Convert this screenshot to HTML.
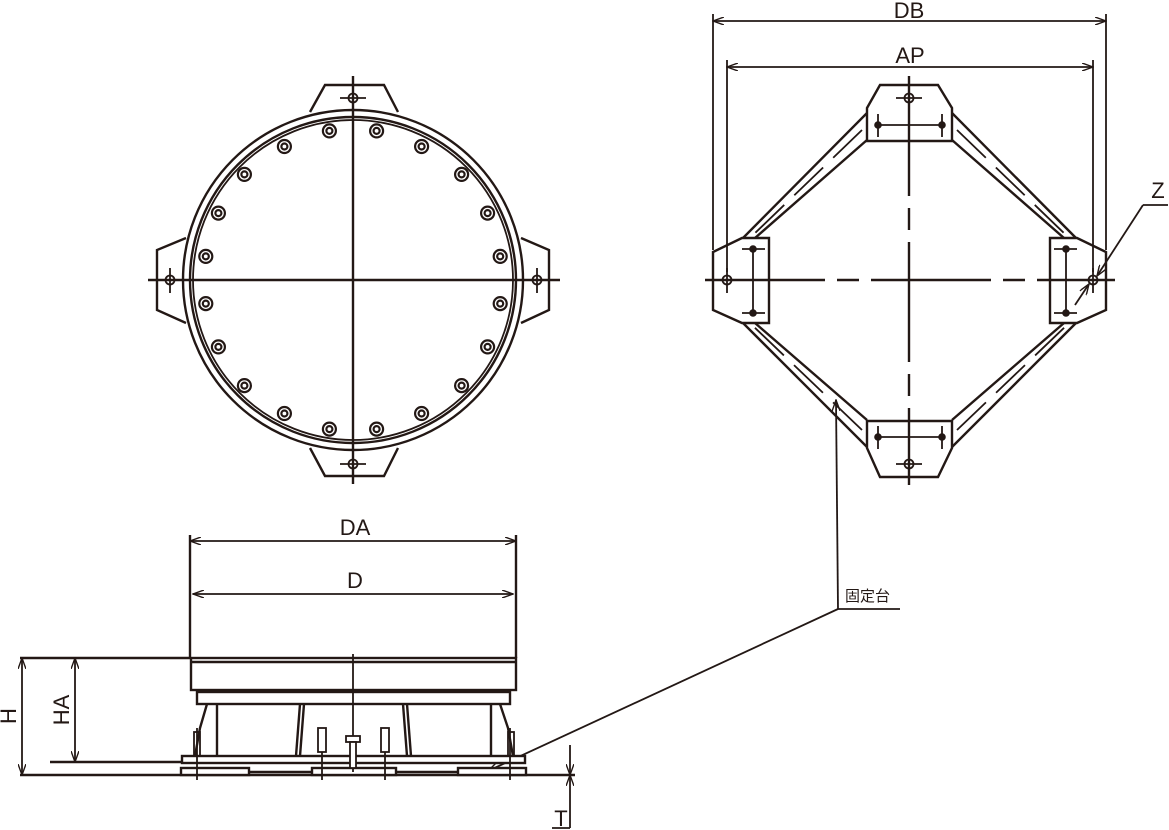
<!DOCTYPE html>
<html><head><meta charset="utf-8"><style>
html,body{margin:0;padding:0;background:#fff;}
svg{display:block;}
text{font-family:"Liberation Sans","Noto Sans CJK JP",sans-serif;fill:#231815;}
</style></head><body>
<svg width="1169" height="830" viewBox="0 0 1169 830" xmlns="http://www.w3.org/2000/svg">
<defs>
<marker id="a" markerWidth="12" markerHeight="8" refX="11" refY="4" orient="auto-start-reverse" markerUnits="userSpaceOnUse"><path d="M0,0 L11,4 L0,8" fill="none" stroke="#231815" stroke-width="1.4"/></marker>
</defs>
<g stroke="#231815" fill="none" stroke-width="2.4">
<path d="M310,112 L325,85 L384,85 L398,112" fill="#fff"/>
<path d="M310,448 L325,476 L384,476 L398,448" fill="#fff"/>
<path d="M186,238 L157,250 L157,310 L186,323" fill="#fff"/>
<path d="M521,238 L549,250 L549,310 L521,323" fill="#fff"/>
<ellipse cx="353" cy="280" rx="170" ry="170" fill="#fff"/>
<ellipse cx="353" cy="280" rx="163" ry="163"/>
<ellipse cx="353" cy="280" rx="160" ry="160" stroke-width="1.8"/>
<line x1="148" y1="280" x2="560" y2="280"/>
<line x1="353" y1="76" x2="353" y2="484"/>
<g stroke-width="1.8">
<circle cx="353" cy="98" r="4.5"/><line x1="340" y1="98" x2="366" y2="98"/>
<circle cx="353" cy="464" r="4.5"/><line x1="340" y1="464" x2="366" y2="464"/>
<circle cx="170" cy="280" r="4.5"/><line x1="170" y1="268" x2="170" y2="293"/>
<circle cx="537" cy="280" r="4.5"/><line x1="537" y1="268" x2="537" y2="293"/>
</g>
<g stroke-width="2.2">
<circle cx="376.6" cy="130.9" r="6.5"/><circle cx="376.6" cy="130.9" r="3"/>
<circle cx="329.4" cy="130.9" r="6.5"/><circle cx="329.4" cy="130.9" r="3"/>
<circle cx="421.6" cy="146.5" r="6.5"/><circle cx="421.6" cy="146.5" r="3"/>
<circle cx="284.4" cy="146.5" r="6.5"/><circle cx="284.4" cy="146.5" r="3"/>
<circle cx="461.6" cy="174.4" r="6.5"/><circle cx="461.6" cy="174.4" r="3"/>
<circle cx="244.4" cy="174.4" r="6.5"/><circle cx="244.4" cy="174.4" r="3"/>
<circle cx="487.6" cy="213.1" r="6.5"/><circle cx="487.6" cy="213.1" r="3"/>
<circle cx="218.4" cy="213.1" r="6.5"/><circle cx="218.4" cy="213.1" r="3"/>
<circle cx="500.2" cy="256.4" r="6.5"/><circle cx="500.2" cy="256.4" r="3"/>
<circle cx="205.8" cy="256.4" r="6.5"/><circle cx="205.8" cy="256.4" r="3"/>
<circle cx="500.2" cy="303.6" r="6.5"/><circle cx="500.2" cy="303.6" r="3"/>
<circle cx="205.8" cy="303.6" r="6.5"/><circle cx="205.8" cy="303.6" r="3"/>
<circle cx="487.6" cy="346.9" r="6.5"/><circle cx="487.6" cy="346.9" r="3"/>
<circle cx="218.4" cy="346.9" r="6.5"/><circle cx="218.4" cy="346.9" r="3"/>
<circle cx="461.6" cy="385.6" r="6.5"/><circle cx="461.6" cy="385.6" r="3"/>
<circle cx="244.4" cy="385.6" r="6.5"/><circle cx="244.4" cy="385.6" r="3"/>
<circle cx="421.6" cy="413.5" r="6.5"/><circle cx="421.6" cy="413.5" r="3"/>
<circle cx="284.4" cy="413.5" r="6.5"/><circle cx="284.4" cy="413.5" r="3"/>
<circle cx="376.6" cy="429.1" r="6.5"/><circle cx="376.6" cy="429.1" r="3"/>
<circle cx="329.4" cy="429.1" r="6.5"/><circle cx="329.4" cy="429.1" r="3"/>
</g>

<line x1="867" y1="113" x2="743" y2="238"/><line x1="867" y1="140" x2="755" y2="238"/>
<line x1="952" y1="113" x2="1076" y2="238"/><line x1="952" y1="140" x2="1064" y2="238"/>
<line x1="867" y1="447" x2="743" y2="323"/><line x1="867" y1="420" x2="755" y2="323"/>
<line x1="952" y1="447" x2="1076" y2="323"/><line x1="952" y1="420" x2="1064" y2="323"/>
<g stroke-width="1.8" stroke-dasharray="40,14">
<line x1="862" y1="130" x2="752" y2="236"/><line x1="957" y1="130" x2="1067" y2="236"/>
<line x1="862" y1="430" x2="752" y2="325"/><line x1="957" y1="430" x2="1067" y2="325"/>
</g>
<path d="M867,108 L880,85 L938,85 L952,108 L952,141 L867,141 Z" fill="#fff"/>
<path d="M867,421 L952,421 L952,448 L938,477 L880,477 L867,448 Z" fill="#fff"/>
<path d="M742,238 L769,238 L769,323 L742,323 L713,310 L713,252 Z" fill="#fff"/>
<path d="M1077,238 L1050,238 L1050,323 L1077,323 L1106,310 L1106,252 Z" fill="#fff"/>
<line x1="705" y1="280" x2="1115" y2="280" stroke-dasharray="120,12,22,12"/>
<line x1="909" y1="76" x2="909" y2="485" stroke-dasharray="120,12,22,12"/>
<g stroke-width="1.8">
<line x1="876" y1="125" x2="944" y2="125"/><line x1="878" y1="114" x2="878" y2="137"/><line x1="942" y1="114" x2="942" y2="137"/>
<line x1="876" y1="437" x2="944" y2="437"/><line x1="878" y1="426" x2="878" y2="449"/><line x1="942" y1="426" x2="942" y2="449"/>
<line x1="753" y1="249" x2="753" y2="313"/><line x1="742" y1="249" x2="765" y2="249"/><line x1="742" y1="313" x2="765" y2="313"/>
<line x1="1066" y1="249" x2="1066" y2="313"/><line x1="1054" y1="249" x2="1077" y2="249"/><line x1="1054" y1="313" x2="1077" y2="313"/>
<circle cx="909" cy="98" r="4.5"/><line x1="896" y1="98" x2="922" y2="98"/>
<circle cx="909" cy="464" r="4.5"/><line x1="896" y1="464" x2="922" y2="464"/>
<circle cx="727" cy="280" r="4.5"/><line x1="727" y1="268" x2="727" y2="293"/>
<circle cx="1093" cy="280" r="4.5"/><line x1="1093" y1="268" x2="1093" y2="293"/>
</g>
<g fill="#231815" stroke="none">
<circle cx="878" cy="125" r="3.8"/><circle cx="942" cy="125" r="3.8"/>
<circle cx="878" cy="437" r="3.8"/><circle cx="942" cy="437" r="3.8"/>
<circle cx="753" cy="249" r="3.8"/><circle cx="753" cy="313" r="3.8"/>
<circle cx="1066" cy="249" r="3.8"/><circle cx="1066" cy="313" r="3.8"/>
</g>
<g stroke-width="1.8">
<line x1="713" y1="14" x2="713" y2="250"/><line x1="1106" y1="14" x2="1106" y2="250"/>
<line x1="727" y1="60" x2="727" y2="272"/><line x1="1093" y1="60" x2="1093" y2="272"/>
<line x1="713" y1="21" x2="1106" y2="21" marker-start="url(#a)" marker-end="url(#a)"/>
<line x1="727" y1="67" x2="1093" y2="67" marker-start="url(#a)" marker-end="url(#a)"/>
<line x1="1168" y1="205" x2="1143" y2="205"/>
<line x1="1143" y1="205" x2="1097" y2="276" marker-end="url(#a)"/>
<line x1="1075" y1="305" x2="1089" y2="284" marker-end="url(#a)"/>
<line x1="836" y1="400" x2="838" y2="609" marker-start="url(#a)"/>
<line x1="838" y1="609" x2="900" y2="609"/>
<line x1="838" y1="609" x2="488" y2="771" marker-end="url(#a)"/>
</g>

<g stroke-width="2.4">
<line x1="190" y1="535" x2="190" y2="658"/><line x1="516" y1="535" x2="516" y2="658"/>
<rect x="191" y="658" width="325" height="32" fill="#fff"/>
<line x1="191" y1="662" x2="516" y2="662"/>
<rect x="197" y="692" width="313" height="12" fill="#fff"/>
<line x1="217" y1="704" x2="217" y2="756"/><line x1="491" y1="704" x2="491" y2="756"/>
<path d="M207,704 L200,728 L195,756"/><path d="M500,704 L508,728 L513,756"/>
<path d="M300,704 L296,756 M304,704 L300,756"/><path d="M403,704 L407,756 M407,704 L411,756"/>
<rect x="182" y="756" width="343" height="7" fill="#fff"/>
<line x1="20" y1="658" x2="191" y2="658"/>
<line x1="50" y1="762" x2="182" y2="762"/>
<line x1="20" y1="775" x2="575" y2="775"/>
<rect x="181" y="768" width="68" height="7" fill="#fff"/>
<rect x="312" y="768" width="84" height="7" fill="#fff"/>
<rect x="458" y="768" width="68" height="7" fill="#fff"/>
<line x1="249" y1="772" x2="312" y2="772"/><line x1="396" y1="772" x2="458" y2="772"/>
</g>
<g stroke-width="1.8">
<line x1="353" y1="654" x2="353" y2="772"/>
<line x1="197" y1="728" x2="197" y2="780"/><line x1="510" y1="728" x2="510" y2="780"/>
<line x1="322" y1="728" x2="322" y2="780"/><line x1="385" y1="728" x2="385" y2="780"/>
<rect x="318" y="728" width="8" height="24" fill="#fff"/><rect x="381" y="728" width="8" height="24" fill="#fff"/>
<rect x="346" y="736" width="14" height="6" fill="#fff"/><rect x="350" y="742" width="6" height="26" fill="#fff"/>
<rect x="194" y="732" width="6" height="24"/><rect x="508" y="732" width="6" height="24"/>
<line x1="190" y1="541" x2="516" y2="541" marker-start="url(#a)" marker-end="url(#a)"/>
<line x1="193" y1="594" x2="513" y2="594" marker-start="url(#a)" marker-end="url(#a)"/>
<line x1="22" y1="658" x2="22" y2="775" marker-start="url(#a)" marker-end="url(#a)"/>
<line x1="75" y1="658" x2="75" y2="762" marker-start="url(#a)" marker-end="url(#a)"/>
<line x1="570" y1="745" x2="570" y2="775" marker-end="url(#a)"/>
<line x1="570" y1="828" x2="570" y2="775" marker-end="url(#a)"/>
<line x1="552" y1="828" x2="570" y2="828"/>
</g>
</g>
<g font-size="22">
<text x="909" y="18" text-anchor="middle">DB</text>
<text x="910" y="63" text-anchor="middle">AP</text>
<text x="1158" y="198" text-anchor="middle">Z</text>
<text x="355" y="535" text-anchor="middle">DA</text>
<text x="355" y="588" text-anchor="middle">D</text>
<text x="561" y="826" text-anchor="middle">T</text>
<text transform="translate(16,716) rotate(-90)" text-anchor="middle">H</text>
<text transform="translate(69,710) rotate(-90)" text-anchor="middle">HA</text>
</g>
<text x="845" y="601" font-size="15">固定台</text>
</svg>
</body></html>
